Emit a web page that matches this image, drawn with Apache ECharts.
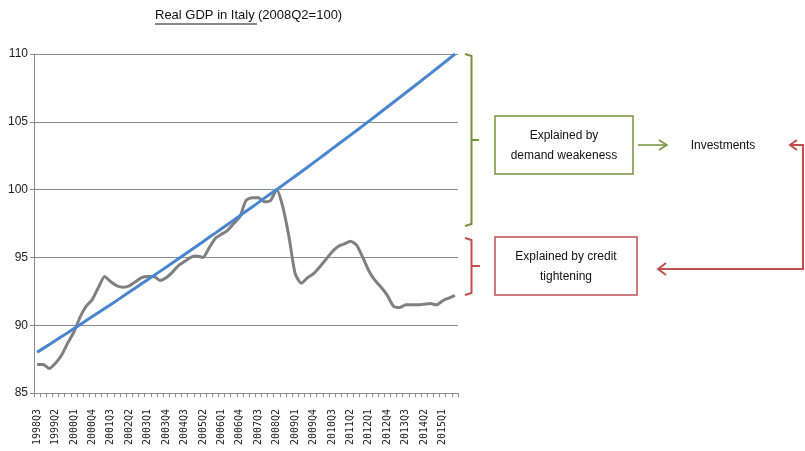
<!DOCTYPE html>
<html>
<head>
<meta charset="utf-8">
<script src="https://cdn.jsdelivr.net/npm/echarts@6/dist/echarts.min.js"></script>
<style>
  html, body { margin: 0; padding: 0; background: #fff; }
  #chart { width: 805px; height: 451px; }
</style>
</head>
<body>
<div id="chart"></div>
<script>
// Quarterly periods, 1998Q3 .. 2015Q3
const quarters = [
  '1998Q3','1998Q4',
  '1999Q1','1999Q2','1999Q3','1999Q4',
  '2000Q1','2000Q2','2000Q3','2000Q4',
  '2001Q1','2001Q2','2001Q3','2001Q4',
  '2002Q1','2002Q2','2002Q3','2002Q4',
  '2003Q1','2003Q2','2003Q3','2003Q4',
  '2004Q1','2004Q2','2004Q3','2004Q4',
  '2005Q1','2005Q2','2005Q3','2005Q4',
  '2006Q1','2006Q2','2006Q3','2006Q4',
  '2007Q1','2007Q2','2007Q3','2007Q4',
  '2008Q1','2008Q2','2008Q3','2008Q4',
  '2009Q1','2009Q2','2009Q3','2009Q4',
  '2010Q1','2010Q2','2010Q3','2010Q4',
  '2011Q1','2011Q2','2011Q3','2011Q4',
  '2012Q1','2012Q2','2012Q3','2012Q4',
  '2013Q1','2013Q2','2013Q3','2013Q4',
  '2014Q1','2014Q2','2014Q3','2014Q4',
  '2015Q1','2015Q2','2015Q3'
];

// Real GDP index (2008Q2 = 100)
const realGdp = [
  87.1, 87.1, 86.8, 87.2, 87.8, 88.7, 89.5, 90.6, 91.4, 91.9,
  92.8, 93.6, 93.2, 92.9, 92.8, 92.9, 93.2, 93.5, 93.6, 93.6,
  93.3, 93.5, 93.9, 94.4, 94.7, 95.0, 95.1, 95.0, 95.7, 96.4,
  96.7, 97.0, 97.5, 98.0, 99.2, 99.4, 99.4, 99.1, 99.2, 100.0,
  98.7, 96.5, 93.8, 93.1, 93.5, 93.8, 94.3, 94.85, 95.4, 95.8,
  96.0, 96.2, 95.9, 95.0, 94.0, 93.3, 92.8, 92.2, 91.4, 91.3,
  91.5, 91.5, 91.5, 91.55, 91.6, 91.5, 91.8, 92.0, 92.2
];

// Pre-crisis growth trend
const trendGdp = [
  88.00, 88.29, 88.58, 88.87, 89.16, 89.45, 89.75, 90.04, 90.34, 90.64,
  90.93, 91.23, 91.53, 91.83, 92.14, 92.44, 92.74, 93.05, 93.36, 93.66,
  93.97, 94.28, 94.59, 94.90, 95.22, 95.53, 95.84, 96.16, 96.48, 96.79,
  97.11, 97.43, 97.75, 98.07, 98.40, 98.72, 99.04, 99.37, 99.70, 100.00,
  100.33, 100.66, 100.99, 101.32, 101.65, 101.99, 102.32, 102.66, 103.00, 103.34,
  103.68, 104.02, 104.36, 104.70, 105.05, 105.39, 105.74, 106.09, 106.44, 106.79,
  107.14, 107.49, 107.84, 108.20, 108.55, 108.91, 109.27, 109.63, 110.00
];

const yTicks = { min: 85, max: 110, step: 5 };

const narrow = "'Liberation Sans Narrow', 'Liberation Sans', 'DejaVu Sans Condensed', sans-serif";
const green = '#77933C';
const red = '#C0504D';

const chart = echarts.init(document.getElementById('chart'), null, { renderer: 'canvas' });

chart.setOption({
  animation: false,
  backgroundColor: '#ffffff',
  grid: { left: 34, right: 347, top: 54, bottom: 58, containLabel: false },
  xAxis: {
    type: 'category',
    data: quarters,
    boundaryGap: true,
    axisLine: { show: true, lineStyle: { color: '#8c8c8c', width: 1 } },
    axisTick: { show: true, interval: 0, length: 4, lineStyle: { color: '#8c8c8c' } },
    axisLabel: {
      interval: 2,
      rotate: 90,
      margin: 16,
      fontFamily: "'DejaVu Sans Mono', monospace",
      fontSize: 10,
      color: '#222'
    },
    splitLine: { show: false }
  },
  yAxis: {
    type: 'value',
    min: yTicks.min,
    max: yTicks.max,
    interval: yTicks.step,
    axisLine: { show: true, lineStyle: { color: '#8c8c8c', width: 1 } },
    axisTick: { show: true, length: 4, lineStyle: { color: '#8c8c8c' } },
    axisLabel: { margin: 6, fontFamily: narrow, fontSize: 12, color: '#222' },
    splitLine: { show: true, lineStyle: { color: '#8c8c8c', width: 1 } }
  },
  series: [
    {
      name: 'Real GDP',
      type: 'line',
      data: realGdp,
      showSymbol: false,
      smooth: 0.2,
      lineStyle: { color: '#808080', width: 3 },
      z: 3
    },
    {
      name: 'Trend',
      type: 'line',
      data: trendGdp,
      showSymbol: false,
      lineStyle: { color: '#4A86D0', width: 3 },
      z: 4
    }
  ],
  graphic: [
    // Title with underlined country phrase
    {
      type: 'text', left: 155, top: 9,
      style: { text: 'Real GDP in Italy', font: '13px ' + narrow, fill: '#111' }
    },
    {
      type: 'line', shape: { x1: 155, y1: 24, x2: 257, y2: 24 },
      style: { stroke: '#111', lineWidth: 1 }
    },
    {
      type: 'text', left: 258, top: 9,
      style: { text: '(2008Q2=100)', font: '13px ' + narrow, fill: '#111' }
    },

    // Brace: demand weakness
    {
      type: 'polyline',
      shape: { points: [[465, 54], [471.5, 56], [471.5, 224], [465, 226]] },
      style: { stroke: green, lineWidth: 2, fill: null }
    },
    {
      type: 'line', shape: { x1: 471.5, y1: 140, x2: 479, y2: 140 },
      style: { stroke: green, lineWidth: 2 }
    },
    // Brace: credit tightening
    {
      type: 'polyline',
      shape: { points: [[465, 238], [471.5, 240], [471.5, 293], [465, 295]] },
      style: { stroke: red, lineWidth: 2, fill: null }
    },
    {
      type: 'line', shape: { x1: 471.5, y1: 266, x2: 480, y2: 266 },
      style: { stroke: red, lineWidth: 2 }
    },

    // Boxes
    {
      type: 'rect', shape: { x: 495, y: 116, width: 138, height: 58 },
      style: { stroke: green, lineWidth: 1.5, fill: '#fff' }
    },
    {
      type: 'text', x: 564, y: 136,
      style: { text: 'Explained by', font: '12px ' + narrow, fill: '#111', align: 'center', verticalAlign: 'middle' }
    },
    {
      type: 'text', x: 564, y: 156,
      style: { text: 'demand weakeness', font: '12px ' + narrow, fill: '#111', align: 'center', verticalAlign: 'middle' }
    },
    {
      type: 'rect', shape: { x: 495, y: 237, width: 142, height: 58 },
      style: { stroke: red, lineWidth: 1.5, fill: '#fff' }
    },
    {
      type: 'text', x: 566, y: 257,
      style: { text: 'Explained by credit', font: '12px ' + narrow, fill: '#111', align: 'center', verticalAlign: 'middle' }
    },
    {
      type: 'text', x: 566, y: 277,
      style: { text: 'tightening', font: '12px ' + narrow, fill: '#111', align: 'center', verticalAlign: 'middle' }
    },

    // Demand weakness -> Investments
    {
      type: 'line', shape: { x1: 638, y1: 145, x2: 667, y2: 145 },
      style: { stroke: green, lineWidth: 1.5 }
    },
    {
      type: 'polyline', shape: { points: [[659, 140], [667, 145], [659, 150]] },
      style: { stroke: green, lineWidth: 1.5, fill: null }
    },
    {
      type: 'text', x: 723, y: 146,
      style: { text: 'Investments', font: '12px ' + narrow, fill: '#111', align: 'center', verticalAlign: 'middle' }
    },

    // Investments <-> credit tightening loop
    {
      type: 'polyline',
      shape: { points: [[791, 145], [803, 145], [803, 269], [659, 269]] },
      style: { stroke: red, lineWidth: 2, fill: null }
    },
    {
      type: 'polyline', shape: { points: [[797, 140], [790, 145], [797, 150]] },
      style: { stroke: red, lineWidth: 2, fill: null }
    },
    {
      type: 'polyline', shape: { points: [[666, 263], [658, 269], [666, 275]] },
      style: { stroke: red, lineWidth: 2, fill: null }
    }
  ]
});
</script>
</body>
</html>
